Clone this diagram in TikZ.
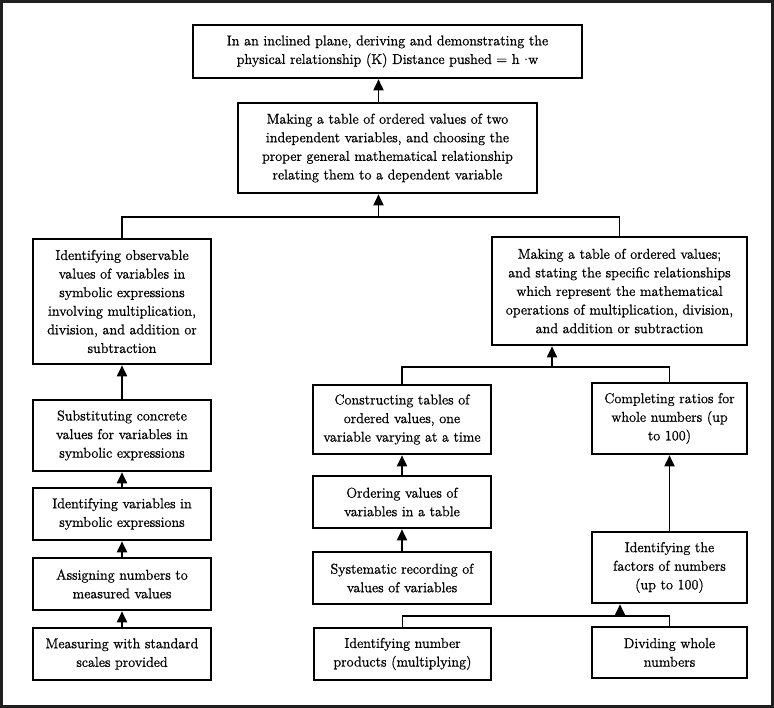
\documentclass[tikz,border=0pt]{standalone}
\usepackage{fontspec}
\newfontfamily\boxfont{lmroman12-regular.otf}[FakeBold=1.0]
\usetikzlibrary{arrows.meta,calc}
\begin{document}
\begin{tikzpicture}[x=1pt,y=-1pt,
  box/.style={draw=black,line width=2.6pt,align=center,inner sep=0pt,
    font=\boxfont\fontsize{14.2}{18.6}\selectfont},
  conn/.style={line width=1.8pt},
  arr/.style={line width=1.8pt,-{Triangle[width=10pt,length=11pt]}}]
\useasboundingbox (0,0) rectangle (774,708);
\draw[line width=3pt,draw=black!88] (1.5,1.5) rectangle (772.5,706.5);

\node[box,minimum width=389pt,minimum height=53pt] (top) at (387.5,51.5)
 {In an inclined plane, deriving and demonstrating the\\physical relationship (K) Distance pushed = h $\cdot$w};
\node[box,minimum width=299pt,minimum height=90pt] (b2) at (387.5,148)
 {Making a table of ordered values of two\\independent variables, and choosing the\\proper general mathematical relationship\\relating them to a dependent variable};
\node[box,minimum width=178pt,minimum height=125pt] (A) at (122,301.5)
 {Identifying observable\\values of variables in\\symbolic expressions\\involving multiplication,\\division, and addition or\\subtraction};
\node[box,minimum width=255pt,minimum height=108pt] (B) at (619.5,291)
 {Making a table of ordered values;\\and stating the specific relationships\\which represent the mathematical\\operations of multiplication, division,\\and addition or subtraction};
\node[box,minimum width=178pt,minimum height=71pt] (sub) at (122,435.5)
 {Substituting concrete\\values for variables in\\symbolic expressions};
\node[box,minimum width=178pt,minimum height=52pt] (idv) at (122,514)
 {Identifying variables in\\symbolic expressions};
\node[box,minimum width=178pt,minimum height=52pt] (asg) at (122,584)
 {Assigning numbers to\\measured values};
\node[box,minimum width=178pt,minimum height=52pt] (mea) at (122,654)
 {Measuring with standard\\scales provided};
\node[box,minimum width=178pt,minimum height=69pt] (con) at (402,419.5)
 {Constructing tables of\\ordered values, one\\variable varying at a time};
\node[box,minimum width=178pt,minimum height=52pt] (ord) at (402,502)
 {Ordering values of\\variables in a table};
\node[box,minimum width=178pt,minimum height=52pt] (sys) at (402,578)
 {Systematic recording of\\values of variables};
\node[box,minimum width=177pt,minimum height=52pt] (prd) at (402.5,654)
 {Identifying number\\products (multiplying)};
\node[box,minimum width=155pt,minimum height=71pt] (cmp) at (669.5,418.5)
 {Completing ratios for\\whole numbers (up\\to 100)};
\node[box,minimum width=155pt,minimum height=71pt] (fac) at (669.5,567.5)
 {Identifying the\\factors of numbers\\(up to 100)};
\node[box,minimum width=155pt,minimum height=51pt] (div) at (669.5,652.5)
 {Dividing whole\\numbers};

\coordinate (x1) at (378.5,0);
\coordinate (x2) at (552,0);
\coordinate (x3) at (620,0);
\coordinate (j1) at (0,217);
\coordinate (j2) at (0,367);
\coordinate (j3) at (0,616);

% top arrow
\draw[arr] (b2.north -| x1) -- (top.south -| x1);
% junction 1
\draw[conn] (A.north) -- (A.north |- j1) -- (B.north |- j1) -- (B.north);
\draw[arr] (j1 -| x1) -- (b2.south -| x1);
% junction 2
\draw[conn] (con.north) -- (con.north |- j2) -- (cmp.north |- j2) -- (cmp.north);
\draw[arr] (j2 -| x2) -- (B.south -| x2);
% left chain
\draw[arr] (sub.north) -- (A.south);
\draw[arr] (idv.north) -- (sub.south);
\draw[arr] (asg.north) -- (idv.south);
\draw[arr] (mea.north) -- (asg.south);
% middle chain
\draw[arr] (ord.north) -- (con.south);
\draw[arr] (sys.north) -- (ord.south);
% right chain
\draw[arr] (fac.north) -- (cmp.south);
% junction 3
\draw[conn] (prd.north) -- (prd.north |- j3) -- (div.north |- j3) -- (div.north);
\draw[arr] (j3 -| x3) -- (fac.south -| x3);
\end{tikzpicture}
\end{document}
